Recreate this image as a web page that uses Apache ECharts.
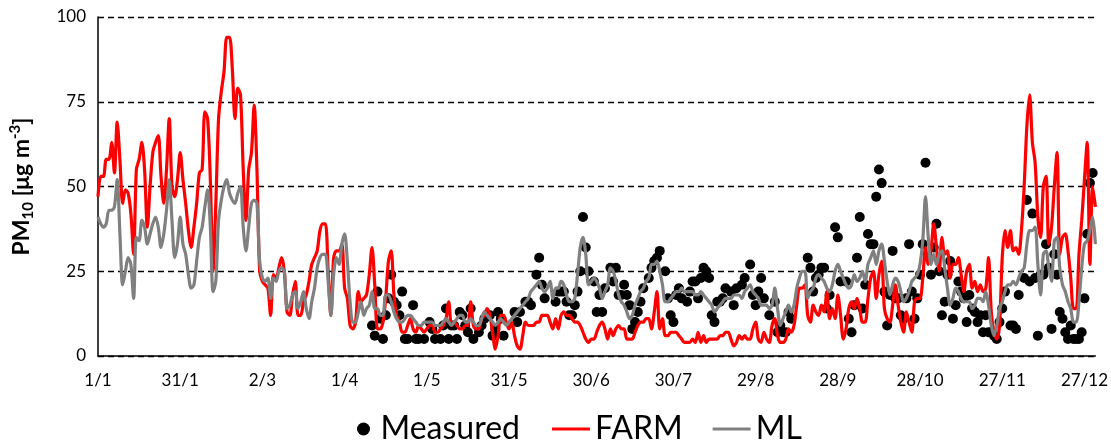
<!DOCTYPE html>
<html>
<head>
<meta charset="utf-8">
<script src="https://cdn.jsdelivr.net/npm/echarts@6/dist/echarts.min.js"></script>
<style>
  html, body { margin: 0; padding: 0; background: #fff; }
  #chart { width: 1111px; height: 443px; }
</style>
</head>
<body>
<div id="chart"></div>
<script>
// daily FARM model values (1/1 .. 31/12)
var farm = [
  47, 53, 53, 58, 58, 63, 54, 69, 58, 45, 49, 48, 42, 30, 55, 58, 63, 55, 38, 50, 60, 63, 65, 53, 45, 55, 70, 50, 47, 52, 60,
  52, 45, 37, 32, 38, 45, 54, 55, 72, 70, 52, 25, 45, 70, 78, 84, 94, 94, 85, 70, 79, 77, 55, 40, 55, 60, 74, 55, 25, 22,
  21, 20, 12, 24, 23, 26, 29, 25, 13, 12, 18, 22, 12, 12, 16, 18, 22, 27, 29, 31, 37, 39, 39, 25, 12, 29, 31, 31, 33, 20, 17, 9,
  8, 10, 19, 16, 17, 18, 24, 32, 21, 8, 8, 10, 17, 28, 31, 18, 12, 10, 7, 7, 9, 11, 8, 7, 9, 8, 7, 8, 9, 9, 7,
  7, 8, 9, 11, 16, 9, 10, 9, 8, 8, 9, 9, 16, 9, 8, 8, 11, 12, 14, 12, 7, 2, 6, 12, 12, 10, 8, 10, 6, 3, 2,
  6, 10, 9, 9, 9, 10, 10, 12, 12, 12, 10, 8, 11, 8, 12, 13, 12, 12, 11, 10, 10, 9, 7, 5, 4, 5, 5, 7, 9, 10, 8,
  5, 8, 6, 8, 9, 8, 8, 5, 5, 5, 7, 9, 10, 10, 11, 11, 8, 13, 19, 8, 11, 6, 6, 7, 7, 7, 6, 5, 4, 4, 4,
  5, 4, 7, 4, 6, 4, 5, 5, 5, 5, 6, 6, 7, 7, 5, 3, 4, 6, 5, 6, 5, 5, 8, 10, 5, 4, 7, 5, 4, 9, 11,
  6, 4, 4, 5, 8, 7, 9, 15, 20, 20, 21, 12, 10, 15, 13, 12, 15, 13, 19, 11, 14, 11, 18, 12, 5, 8, 14, 16, 14, 17, 14,
  10, 10, 17, 23, 25, 17, 24, 28, 14, 11, 10, 15, 21, 15, 10, 7, 13, 10, 7, 16, 17, 17, 23, 32, 27, 31, 39, 32, 25, 35, 30,
  31, 23, 27, 27, 29, 24, 19, 25, 27, 20, 22, 19, 21, 19, 20, 29, 13, 7, 5, 9, 29, 37, 32, 37, 31, 32, 30, 37, 50, 68, 77,
  63, 57, 41, 35, 50, 53, 33, 38, 50, 60, 30, 35, 36, 31, 23, 14, 14, 30, 40, 52, 63, 27, 50, 44
];

// daily ML model values
var ml = [
  41, 39, 38, 39, 43, 43, 44, 52, 36, 21, 25, 29, 27, 17, 35, 34, 40, 38, 33, 36, 39, 41, 38, 32, 36, 43, 52, 40, 29, 33, 41,
  33, 30, 24, 20, 21, 28, 35, 38, 44, 49, 38, 19, 22, 40, 46, 50, 52, 48, 46, 45, 48, 50, 38, 31, 38, 45, 46, 45, 28, 23,
  22, 23, 17, 23, 22, 25, 26, 25, 14, 15, 18, 19, 14, 16, 19, 14, 11, 16, 20, 26, 29, 30, 30, 22, 12, 24, 29, 27, 33, 36, 28, 16,
  10, 10, 13, 16, 12, 14, 15, 19, 14, 14, 12, 12, 18, 18, 16, 13, 11, 10, 10, 11, 12, 12, 11, 10, 9, 9, 10, 10, 10, 10, 9,
  9, 9, 10, 11, 10, 9, 10, 11, 12, 12, 10, 10, 11, 10, 9, 9, 11, 13, 12, 11, 10, 9, 10, 11, 10, 9, 10, 11, 12, 13, 14,
  15, 16, 17, 19, 20, 21, 22, 20, 19, 20, 22, 17, 20, 20, 22, 21, 18, 16, 16, 17, 24, 32, 35, 30, 21, 22, 23, 22, 20, 17, 19,
  21, 26, 25, 22, 18, 16, 15, 13, 11, 12, 15, 17, 19, 20, 22, 23, 27, 27, 28, 25, 21, 16, 16, 17, 18, 19, 19, 20, 19, 19, 19,
  19, 18, 18, 19, 18, 17, 16, 15, 13, 14, 15, 16, 17, 17, 17, 18, 18, 18, 17, 19, 20, 21, 19, 18, 17, 15, 15, 15, 14, 15, 20,
  14, 9, 11, 13, 15, 13, 15, 20, 23, 25, 25, 17, 19, 20, 23, 24, 23, 22, 20, 19, 21, 25, 27, 25, 23, 21, 20, 21, 24, 22, 23,
  25, 22, 27, 29, 31, 27, 31, 33, 28, 22, 18, 21, 23, 22, 19, 16, 17, 19, 22, 23, 24, 27, 34, 47, 35, 27, 30, 27, 30, 31, 26,
  20, 15, 17, 20, 19, 17, 16, 16, 16, 14, 15, 17, 17, 16, 19, 15, 9, 6, 9, 14, 16, 19, 21, 21, 22, 21, 23, 25, 26, 33, 37,
  37, 38, 27, 18, 30, 31, 26, 22, 34, 35, 26, 21, 19, 16, 14, 10, 10, 16, 26, 33, 34, 37, 41, 33
];

// measured values: day index (0 = 1/1) and value
var measDay = [
  100, 101, 102, 103, 104, 105, 106, 107, 108, 109, 110, 111, 112, 113, 115, 116, 117, 119, 121, 122, 123, 125, 126, 127, 128,
  129, 130, 131, 132, 133, 134, 135, 136, 137, 139, 140, 141, 142, 143, 144, 145, 146, 147, 148, 152, 153, 154, 156, 157, 158,
  160, 161, 162, 163, 167, 168, 169, 170, 171, 172, 173, 174, 175, 176, 177, 178, 179, 181, 182, 183, 184, 185, 187, 188, 189,
  190, 191, 192, 193, 194, 195, 196, 197, 198, 199, 201, 202, 203, 204, 205, 207, 208, 209, 210, 211, 212, 213, 215, 216, 217,
  218, 219, 220, 221, 222, 223, 224, 225, 226, 227, 228, 229, 231, 232, 233, 235, 236, 238, 239, 240, 241, 242, 243, 245, 247,
  248, 249, 250, 251, 252, 253, 259, 260, 261, 262, 263, 264, 265, 266, 267, 269, 270, 271, 273, 274, 275, 276, 277, 278, 279,
  280, 281, 282, 283, 284, 285, 286, 287, 288, 289, 290, 291, 292, 293, 294, 295, 296, 297, 298, 299, 300, 301, 302, 304, 305,
  306, 307, 308, 309, 310, 311, 312, 313, 314, 315, 316, 317, 318, 319, 320, 321, 322, 323, 324, 325, 326, 327, 328, 329, 330,
  331, 333, 334, 335, 336, 338, 339, 340, 341, 342, 343, 344, 345, 346, 347, 348, 349, 350, 351, 352, 353, 354, 355, 356, 357,
  358, 359, 360, 361, 362, 363
];
var measVal = [
  9, 6, 19, 11, 5, 12, 17, 24, 16, 15, 12, 19, 5, 5, 15, 5, 5, 5, 10, 8, 5, 5, 9, 14, 5,
  9, 9, 5, 13, 12, 9, 7, 14, 5, 7, 9, 11, 12, 12, 6, 8, 13, 11, 6, 13, 10, 13, 16, 16, 15,
  24, 29, 21, 17, 16, 19, 19, 19, 16, 12, 12, 15, 19, 25, 41, 32, 25, 22, 13, 18, 13, 20, 26, 22, 26,
  18, 18, 21, 18, 15, 8, 10, 13, 16, 20, 23, 26, 28, 29, 31, 25, 17, 12, 10, 18, 20, 17, 16, 19, 22,
  22, 17, 23, 26, 25, 23, 12, 10, 16, 16, 17, 20, 19, 15, 20, 21, 23, 27, 18, 15, 19, 23, 17, 12, 16,
  7, 9, 7, 7, 13, 11, 29, 26, 19, 23, 24, 26, 26, 14, 18, 38, 35, 22, 22, 11, 7, 15, 29, 41, 14,
  21, 36, 33, 33, 47, 55, 51, 19, 9, 18, 31, 17, 17, 12, 11, 17, 33, 19, 11, 17, 24, 33, 57, 24, 32,
  39, 25, 12, 16, 24, 28, 11, 15, 22, 19, 17, 10, 18, 14, 13, 10, 12, 7, 12, 7, 7, 6, 5, 10, 14,
  19, 9, 9, 8, 18, 23, 46, 22, 42, 23, 6, 24, 24, 33, 26, 8, 30, 24, 13, 11, 7, 5, 9, 5, 5,
  5, 7, 17, 36, 51, 54
];

// category labels d/m for a non-leap year
var days = [];
for (var i = 0; i < farm.length; i++) {
  var d = new Date(Date.UTC(2019, 0, 1 + i));
  days.push(d.getUTCDate() + '/' + (d.getUTCMonth() + 1));
}

var measured = measDay.map(function (day, k) { return [day, measVal[k]]; });

var myChart = echarts.init(document.getElementById('chart'));
var legendText = { fontFamily: 'Lato', fontSize: 32, color: '#000' };

var option = {
  animation: false,
  grid: { left: 98, right: 14, top: 17, bottom: 87 },
  legend: [
    {
      data: [{ name: 'Measured', icon: 'circle' }],
      left: 352, top: 408,
      itemWidth: 24, itemHeight: 13,
      textStyle: legendText
    },
    {
      data: [{ name: 'FARM', icon: 'rect' }, { name: 'ML', icon: 'rect' }],
      left: 547, top: 408,
      itemWidth: 38, itemHeight: 3, itemGap: 30,
      textStyle: legendText
    }
  ],
  xAxis: {
    type: 'category',
    data: days,
    boundaryGap: false,
    axisLine: { lineStyle: { color: '#000', width: 1.5 } },
    axisTick: { show: false },
    axisLabel: {
      interval: 29,
      margin: 16,
      color: '#000',
      fontFamily: 'Lato',
      fontSize: 17
    },
    splitLine: { show: false }
  },
  yAxis: {
    type: 'value',
    min: 0, max: 100, interval: 25,
    name: '{b|PM}{sub|10}{b| [μg m}{sup|-3}{b|]}',
    nameLocation: 'middle',
    nameRotate: 90,
    nameGap: 62,
    nameTextStyle: {
      rich: {
        b: { fontFamily: 'Lato', fontWeight: 'bold', fontSize: 23, color: '#000', lineHeight: 28 },
        sub: { fontFamily: 'Lato', fontWeight: 'bold', fontSize: 15, color: '#000', lineHeight: 16, verticalAlign: 'bottom' },
        sup: { fontFamily: 'Lato', fontWeight: 'bold', fontSize: 15, color: '#000', lineHeight: 16, verticalAlign: 'top' }
      }
    },
    axisLine: { show: true, lineStyle: { color: '#000', width: 1.5 } },
    axisTick: { show: false },
    axisLabel: { margin: 12, color: '#000', fontFamily: 'Lato', fontSize: 17 },
    splitLine: { lineStyle: { color: '#000', type: [6, 4], width: 1.3 } }
  },
  series: [
    {
      name: 'FARM',
      type: 'line',
      data: farm,
      smooth: 0.3,
      symbol: 'none',
      itemStyle: { color: '#ff0000' },
      lineStyle: { color: '#ff0000', width: 3.2 }
    },
    {
      name: 'ML',
      type: 'line',
      data: ml,
      smooth: 0.3,
      symbol: 'none',
      itemStyle: { color: '#808080' },
      lineStyle: { color: '#808080', width: 3.2 }
    },
    {
      name: 'Measured',
      type: 'scatter',
      data: measured,
      symbol: 'circle',
      symbolSize: 10,
      itemStyle: { color: '#000', opacity: 1 }
    }
  ]
};

myChart.setOption(option);
</script>
</body>
</html>
